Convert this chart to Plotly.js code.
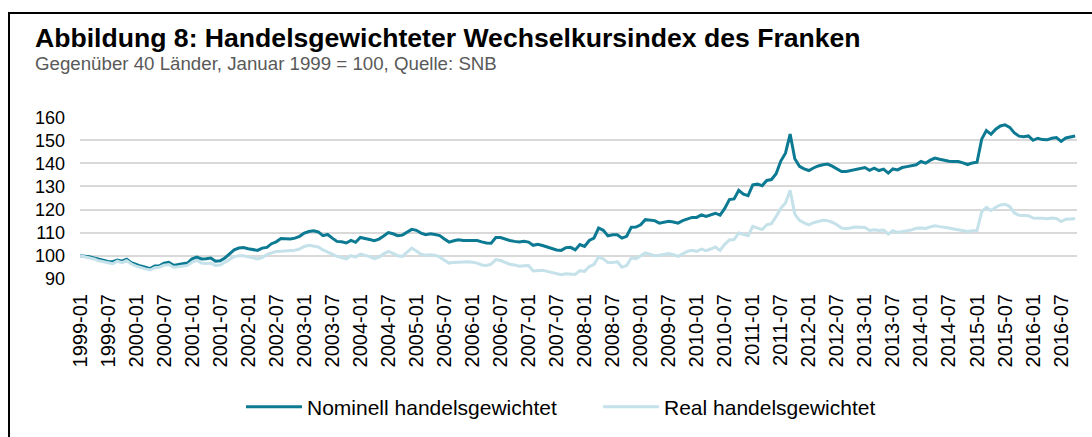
<!DOCTYPE html>
<html>
<head>
<meta charset="utf-8">
<script src="https://cdn.plot.ly/plotly-3.0.1.min.js"></script>
<style>
  html, body { margin: 0; padding: 0; background: #fff; }
  #wrap { position: relative; width: 1092px; height: 437px; overflow: hidden; }
  #chart { position: absolute; left: 0; top: 0; width: 1092px; height: 437px; }
  #frame { position: absolute; left: 8px; top: 12px; width: 1090px; height: 430px;
           border-top: 2px solid #000; border-left: 2px solid #000; pointer-events: none; }
</style>
</head>
<body>
<div id="wrap">
  <div id="chart"></div>
  <div id="frame"></div>
</div>
<script>
// Monthly categories 1999-01 .. 2016-10
const months = [
"1999-01","1999-02","1999-03","1999-04","1999-05","1999-06","1999-07","1999-08","1999-09","1999-10","1999-11","1999-12",
"2000-01","2000-02","2000-03","2000-04","2000-05","2000-06","2000-07","2000-08","2000-09","2000-10","2000-11","2000-12",
"2001-01","2001-02","2001-03","2001-04","2001-05","2001-06","2001-07","2001-08","2001-09","2001-10","2001-11","2001-12",
"2002-01","2002-02","2002-03","2002-04","2002-05","2002-06","2002-07","2002-08","2002-09","2002-10","2002-11","2002-12",
"2003-01","2003-02","2003-03","2003-04","2003-05","2003-06","2003-07","2003-08","2003-09","2003-10","2003-11","2003-12",
"2004-01","2004-02","2004-03","2004-04","2004-05","2004-06","2004-07","2004-08","2004-09","2004-10","2004-11","2004-12",
"2005-01","2005-02","2005-03","2005-04","2005-05","2005-06","2005-07","2005-08","2005-09","2005-10","2005-11","2005-12",
"2006-01","2006-02","2006-03","2006-04","2006-05","2006-06","2006-07","2006-08","2006-09","2006-10","2006-11","2006-12",
"2007-01","2007-02","2007-03","2007-04","2007-05","2007-06","2007-07","2007-08","2007-09","2007-10","2007-11","2007-12",
"2008-01","2008-02","2008-03","2008-04","2008-05","2008-06","2008-07","2008-08","2008-09","2008-10","2008-11","2008-12",
"2009-01","2009-02","2009-03","2009-04","2009-05","2009-06","2009-07","2009-08","2009-09","2009-10","2009-11","2009-12",
"2010-01","2010-02","2010-03","2010-04","2010-05","2010-06","2010-07","2010-08","2010-09","2010-10","2010-11","2010-12",
"2011-01","2011-02","2011-03","2011-04","2011-05","2011-06","2011-07","2011-08","2011-09","2011-10","2011-11","2011-12",
"2012-01","2012-02","2012-03","2012-04","2012-05","2012-06","2012-07","2012-08","2012-09","2012-10","2012-11","2012-12",
"2013-01","2013-02","2013-03","2013-04","2013-05","2013-06","2013-07","2013-08","2013-09","2013-10","2013-11","2013-12",
"2014-01","2014-02","2014-03","2014-04","2014-05","2014-06","2014-07","2014-08","2014-09","2014-10","2014-11","2014-12",
"2015-01","2015-02","2015-03","2015-04","2015-05","2015-06","2015-07","2015-08","2015-09","2015-10","2015-11","2015-12",
"2016-01","2016-02","2016-03","2016-04","2016-05","2016-06","2016-07","2016-08","2016-09","2016-10"
];

// Nominell handelsgewichtet
const nominal = [
100.0, 99.8, 99.6, 99.0, 98.4, 98.0, 97.5, 97.4, 98.1, 97.6, 98.5, 97.0,
96.2, 95.5, 95.0, 94.4, 95.5, 95.6, 96.8, 97.1, 95.8, 96.0, 96.5, 96.8,
98.6, 99.4, 98.6, 98.7, 99.0, 97.6, 97.8, 99.0, 100.8, 102.5, 103.3, 103.5,
103.0, 102.7, 102.3, 103.3, 103.6, 105.2, 106.0, 107.4, 107.2, 107.2, 107.6, 108.4,
109.8, 110.5, 110.8, 110.3, 108.7, 109.2, 107.6, 106.2, 106.0, 105.5, 106.6, 105.8,
107.9, 107.6, 107.0, 106.5, 107.2, 108.5, 110.0, 109.5, 108.7, 108.9, 110.0, 111.4,
111.0, 109.8, 109.1, 109.5, 109.2, 108.7, 107.2, 105.9, 106.5, 106.9, 106.6, 106.6,
106.4, 106.6, 106.0, 105.5, 105.4, 107.9, 107.9, 107.2, 106.6, 106.2, 105.9, 106.2,
105.9, 104.5, 104.9, 104.4, 103.8, 103.0, 102.5, 102.3, 103.5, 103.6, 102.5, 104.8,
104.0, 106.6, 107.6, 112.0, 111.0, 108.6, 109.1, 109.1, 107.6, 108.4, 112.3, 112.4,
113.4, 115.6, 115.3, 115.2, 114.1, 114.6, 114.9, 114.6, 114.1, 115.2, 115.9, 116.6,
116.6, 117.7, 117.0, 117.8, 118.4, 117.6, 120.5, 124.3, 124.6, 128.3, 126.7, 126.0,
130.7, 131.0, 130.3, 132.6, 133.0, 135.5, 141.0, 144.4, 152.7, 142.0, 138.7, 137.6,
136.9, 138.0, 138.9, 139.4, 139.7, 138.8, 137.7, 136.5, 136.5, 137.0, 137.4, 137.8,
138.2, 137.0, 137.9, 136.9, 137.5, 135.8, 137.6, 137.2, 138.2, 138.6, 138.9, 139.4,
140.8, 140.1, 141.4, 142.3, 141.8, 141.3, 140.9, 140.8, 140.8, 140.2, 139.5, 140.2,
140.5, 150.5, 154.2, 152.6, 154.8, 156.2, 156.7, 155.6, 153.2, 151.8, 151.6, 151.9,
150.0, 150.9, 150.3, 150.2, 150.9, 151.2, 149.5, 151.0, 151.6, 151.9
];

// Real handelsgewichtet
const real = [
100.0, 99.6, 99.3, 98.6, 97.8, 97.3, 96.8, 96.5, 97.6, 97.0, 97.8, 96.4,
95.5, 94.8, 94.3, 93.8, 94.8, 95.0, 95.9, 96.2, 95.0, 95.2, 95.6, 95.8,
97.2, 98.0, 96.8, 96.6, 96.8, 95.8, 96.0, 97.2, 98.4, 99.6, 100.0, 100.0,
99.5, 99.0, 98.6, 99.2, 100.5, 101.2, 101.8, 101.9, 102.0, 102.2, 102.4, 102.9,
104.0, 104.5, 104.3, 103.8, 102.5, 101.6, 100.5, 99.7, 99.2, 98.6, 100.0, 99.4,
100.7, 100.2, 99.6, 98.7, 99.4, 100.8, 101.9, 101.0, 100.0, 99.7, 101.5, 103.3,
102.0, 100.6, 100.2, 100.4, 100.2, 99.4, 98.0, 96.8, 97.1, 97.3, 97.5, 97.4,
97.2, 96.8, 96.0, 95.8, 96.3, 98.3, 97.9, 97.0, 96.3, 96.0, 95.4, 95.6,
95.7, 93.4, 93.6, 93.7, 93.2, 92.8, 92.4, 91.8, 92.2, 92.2, 91.9, 93.5,
93.2, 95.3, 96.2, 99.5, 98.6, 97.0, 97.0, 97.4, 95.0, 95.7, 99.0, 98.7,
99.8, 101.2, 100.6, 100.0, 100.2, 100.6, 100.9, 100.4, 99.7, 100.8, 101.9, 102.3,
101.9, 102.9, 102.2, 102.9, 103.8, 102.3, 104.9, 106.8, 107.0, 109.8, 109.1, 108.7,
112.7, 112.0, 111.3, 113.4, 113.9, 117.0, 120.5, 122.8, 128.3, 118.0, 115.3, 114.2,
113.4, 114.3, 114.8, 115.3, 115.2, 114.5, 113.4, 112.0, 111.7, 112.2, 112.4, 112.3,
112.2, 110.9, 111.2, 110.9, 111.1, 109.4, 110.8, 110.1, 110.6, 110.8, 111.2, 111.9,
112.0, 111.8, 112.5, 113.0, 112.6, 112.4, 112.0, 111.6, 111.3, 110.9, 110.5, 110.8,
110.9, 119.0, 120.9, 119.6, 121.0, 122.0, 122.3, 121.3, 118.5, 117.5, 117.3, 117.3,
116.3, 116.4, 116.2, 116.0, 116.3, 116.1, 114.8, 115.8, 116.0, 116.0
];

const tickLabels = [
"1999-01","1999-07","2000-01","2000-07","2001-01","2001-07","2002-01","2002-07",
"2003-01","2003-07","2004-01","2004-07","2005-01","2005-07","2006-01","2006-07",
"2007-01","2007-07","2008-01","2008-07","2009-01","2009-07","2010-01","2010-07",
"2011-01","2011-07","2012-01","2012-07","2013-01","2013-07","2014-01","2014-07",
"2015-01","2015-07","2016-01","2016-07"
];

const seriesNames = ["Nominell handelsgewichtet", "Real handelsgewichtet"];
const titleText = "Abbildung 8: Handelsgewichteter Wechselkursindex des Franken";
const subtitleText = "Gegenüber 40 Länder, Januar 1999 = 100, Quelle: SNB";

const FONT = "Liberation Sans, Arial, Helvetica, sans-serif";

const traces = [
  { x: months, y: nominal, type: "scatter", mode: "lines", name: seriesNames[0],
    line: { color: "#0b7a92", width: 3 }, hoverinfo: "skip" },
  { x: months, y: real, type: "scatter", mode: "lines", name: seriesNames[1],
    line: { color: "#c5e1e9", width: 3 }, hoverinfo: "skip" }
];

const layout = {
  width: 1092, height: 437,
  margin: { l: 80, r: 15, t: 117, b: 158, pad: 0 },
  paper_bgcolor: "#ffffff", plot_bgcolor: "#ffffff",
  font: { family: FONT, color: "#000" },
  showlegend: true,
  title: {
    text: titleText,
    font: { family: FONT, size: 26.6, color: "#000", weight: "bold" },
    xref: "container", x: 35 / 1092, xanchor: "left",
    yref: "container", y: 1 - 38 / 437, yanchor: "middle"
  },
  annotations: [{
    text: subtitleText, showarrow: false,
    xref: "paper", yref: "paper",
    x: (33 - 80) / 997, xanchor: "left",
    y: (279 - 63) / 162, yanchor: "middle",
    font: { family: FONT, size: 18.7, color: "#595959" }
  }],
  xaxis: {
    type: "category", categoryorder: "array", categoryarray: months,
    range: [0, 213.4],
    tickmode: "array", tickvals: tickLabels, ticktext: tickLabels,
    tickangle: -90, tickfont: { family: FONT, size: 20, color: "#000" },
    showgrid: false, zeroline: false, showline: false, ticks: "",
    ticklabelstandoff: 10, fixedrange: true
  },
  yaxis: {
    range: [89.9, 160.1], tickmode: "linear", tick0: 90, dtick: 10,
    tickfont: { family: FONT, size: 18, color: "#000" },
    showgrid: true, gridcolor: "#d9d9d9", gridwidth: 2,
    zeroline: false, showline: false, ticks: "",
    ticklabelstandoff: 14, fixedrange: true
  },
  legend: {
    orientation: "h",
    xref: "container", x: 241 / 1092, xanchor: "left",
    yref: "container", y: 1 - 407 / 437, yanchor: "middle",
    font: { family: FONT, size: 21, color: "#000" },
    itemwidth: 56, entrywidth: 286, entrywidthmode: "pixels",
    bgcolor: "rgba(0,0,0,0)", borderwidth: 0
  }
};

Plotly.newPlot("chart", traces, layout, { displayModeBar: false, staticPlot: true });
</script>
</body>
</html>
